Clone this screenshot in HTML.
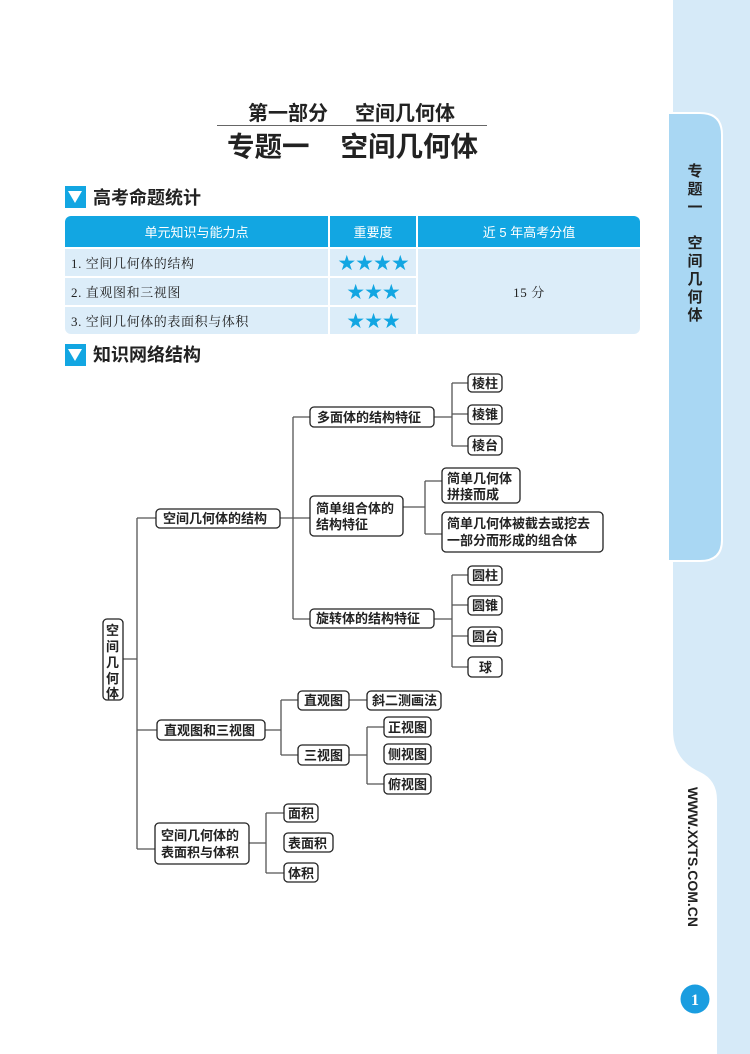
<!DOCTYPE html>
<html><head><meta charset="utf-8"><style>
body{margin:0;width:750px;height:1054px;background:#fff;position:relative;overflow:hidden;font-family:"Liberation Sans","Noto Sans CJK SC",sans-serif;color:#222}
.a{position:absolute}
.cell{position:absolute;box-sizing:border-box;display:flex;align-items:center}
.hd{background:#12a6e2;color:#fff;font-size:13px;justify-content:center}
.rw{background:#dcedf9;font-family:"Liberation Serif","Noto Serif CJK SC",serif;font-size:13px;letter-spacing:0.6px}
.star{color:#12a6e2;font-size:21px;letter-spacing:-1px;justify-content:center}
.sec{position:absolute;left:65px;width:21px;height:22px;background:#12a6e2}
.sec:after{content:"";position:absolute;left:3px;top:5px;border-left:7.5px solid transparent;border-right:7.5px solid transparent;border-top:12px solid #fff}
.sect{position:absolute;left:93px;font-size:18px;font-weight:bold;color:#222}
</style></head><body>
<svg class="a" style="left:0;top:0" width="750" height="1054">
<path d="M673 0 H750 V1054 H717 V800 Q717 780 700 772 Q673 760 673 730 Z" fill="#d6eaf8"/>
<path d="M668 113 H700 Q722 113 722 135 V540 Q722 561 700 561 H668 Z" fill="#a9d7f3" stroke="#fff" stroke-width="2"/>
<circle cx="695" cy="999" r="14.5" fill="#1a9de0"/>
<text x="695" y="1005" fill="#fff" font-family="Liberation Serif" font-weight="bold" font-size="16" text-anchor="middle">1</text>
<text transform="translate(688,787) rotate(90)" font-family="Liberation Sans" font-weight="bold" font-size="14" fill="#222">WWW.XXTS.COM.CN</text>
</svg>
<div class="a" style="left:686px;top:163px;width:18px;font-size:15px;font-weight:bold;line-height:18px;text-align:center">专<br>题<br>一<br><br>空<br>间<br>几<br>何<br>体</div>
<div class="a" style="left:248px;top:102px;font-size:20px;font-weight:bold;white-space:nowrap;line-height:24px">第一部分<span style="display:inline-block;width:27px"></span>空间几何体</div>
<div class="a" style="left:217px;top:125px;width:270px;height:1px;background:#666"></div>
<div class="a" style="left:227px;top:131px;font-size:27.5px;font-weight:bold;white-space:nowrap;line-height:32px">专题一<span style="display:inline-block;width:31px"></span>空间几何体</div>
<div class="sec" style="top:186px"></div><div class="sect" style="top:184px">高考命题统计</div>
<div class="sec" style="top:344px"></div><div class="sect" style="top:341px">知识网络结构</div>
<div class="cell hd" style="left:65px;top:216px;width:263px;height:31px;border-top-left-radius:6px">单元知识与能力点</div>
<div class="cell hd" style="left:330px;top:216px;width:86px;height:31px">重要度</div>
<div class="cell hd" style="left:418px;top:216px;width:222px;height:31px;border-top-right-radius:6px">近 5 年高考分值</div>
<div class="cell rw" style="left:65px;top:249px;width:263px;height:27px;padding-left:6px">1. 空间几何体的结构</div>
<div class="cell rw" style="left:65px;top:278px;width:263px;height:27px;padding-left:6px">2. 直观图和三视图</div>
<div class="cell rw" style="left:65px;top:307px;width:263px;height:27px;padding-left:6px;border-bottom-left-radius:6px">3. 空间几何体的表面积与体积</div>
<div class="cell rw star" style="left:330px;top:249px;width:86px;height:27px;font-family:'DejaVu Sans',sans-serif">★★★★</div>
<div class="cell rw star" style="left:330px;top:278px;width:86px;height:27px;font-family:'DejaVu Sans',sans-serif">★★★</div>
<div class="cell rw star" style="left:330px;top:307px;width:86px;height:27px;font-family:'DejaVu Sans',sans-serif">★★★</div>
<div class="cell rw" style="left:418px;top:249px;width:222px;height:85px;justify-content:center;font-size:13px;border-bottom-right-radius:6px">15 分</div>
<svg class="a" style="left:0;top:0" width="750" height="1054" font-family="Liberation Sans,Noto Sans CJK SC,sans-serif" font-size="13" font-weight="bold" fill="#222">
<g stroke="#555" stroke-width="1.3" fill="none">
<path d="M123 659H137M137 518V849M137 518H156M137 730H157M137 849H155"/>
<path d="M280 518H310M293 417V619M293 417H310M293 619H310"/>
<path d="M434 417H452M452 383V446M452 383H468M452 414H468M452 446H468"/>
<path d="M403 507H425M425 481V534M425 481H442M425 534H442"/>
<path d="M434 619H452M452 575V667M452 575H468M452 605H468M452 636H468M452 667H468"/>
<path d="M265 730H281M281 700V755M281 700H298M281 755H298M349 700H367M349 755H367M367 727V784M367 727H384M367 784H384"/>
<path d="M249 843H266M266 813V873M266 813H284M266 873H284"/>
</g>
<g stroke="#222" stroke-width="1.3" fill="#fff">
<rect x="103" y="619" width="20" height="81" rx="4"/>
<rect x="156" y="509" width="124" height="19" rx="4"/>
<rect x="157" y="720" width="108" height="20" rx="4"/>
<rect x="155" y="823" width="94" height="41" rx="4"/>
<rect x="310" y="407" width="124" height="20" rx="4"/>
<rect x="310" y="496" width="93" height="40" rx="4"/>
<rect x="310" y="609" width="124" height="19" rx="4"/>
<rect x="468" y="374" width="34" height="18" rx="4"/>
<rect x="468" y="405" width="34" height="19" rx="4"/>
<rect x="468" y="436" width="34" height="19" rx="4"/>
<rect x="442" y="468" width="78" height="35" rx="4"/>
<rect x="442" y="512" width="161" height="40" rx="4"/>
<rect x="468" y="566" width="34" height="19" rx="4"/>
<rect x="468" y="596" width="34" height="19" rx="4"/>
<rect x="468" y="627" width="34" height="19" rx="4"/>
<rect x="468" y="657" width="34" height="20" rx="4"/>
<rect x="298" y="691" width="51" height="19" rx="4"/>
<rect x="367" y="691" width="74" height="19" rx="4"/>
<rect x="298" y="745" width="51" height="20" rx="4"/>
<rect x="384" y="717" width="47" height="20" rx="4"/>
<rect x="384" y="744" width="47" height="20" rx="4"/>
<rect x="384" y="774" width="47" height="20" rx="4"/>
<rect x="284" y="804" width="34" height="18" rx="4"/>
<rect x="284" y="833" width="49" height="19" rx="4"/>
<rect x="284" y="863" width="34" height="19" rx="4"/>
</g>
<g>
<text x="106" y="635">空</text><text x="106" y="651">间</text><text x="106" y="667">几</text><text x="106" y="683">何</text><text x="106" y="698">体</text>
<text x="163" y="523">空间几何体的结构</text>
<text x="164" y="735">直观图和三视图</text>
<text x="161" y="840">空间几何体的</text><text x="161" y="857">表面积与体积</text>
<text x="317" y="422">多面体的结构特征</text>
<text x="316" y="513">简单组合体的</text><text x="316" y="529">结构特征</text>
<text x="316" y="623">旋转体的结构特征</text>
<text x="472" y="388">棱柱</text><text x="472" y="419">棱锥</text><text x="472" y="450">棱台</text>
<text x="447" y="483">简单几何体</text><text x="447" y="499">拼接而成</text>
<text x="447" y="528">简单几何体被截去或挖去</text><text x="447" y="545">一部分而形成的组合体</text>
<text x="472" y="580">圆柱</text><text x="472" y="610">圆锥</text><text x="472" y="641">圆台</text><text x="479" y="672">球</text>
<text x="304" y="705">直观图</text><text x="372" y="705">斜二测画法</text>
<text x="304" y="760">三视图</text>
<text x="388" y="732">正视图</text><text x="388" y="759">侧视图</text><text x="388" y="789">俯视图</text>
<text x="288" y="818">面积</text><text x="288" y="848">表面积</text><text x="288" y="878">体积</text>
</g>
</svg>
</body></html>
